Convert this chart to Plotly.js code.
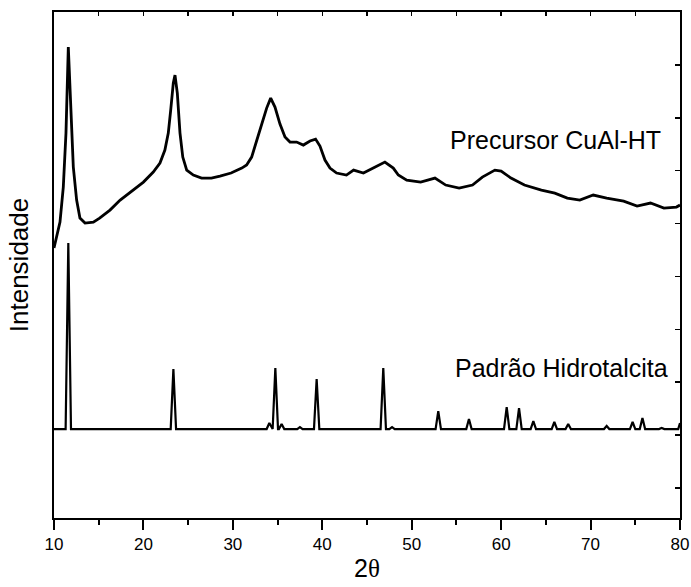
<!DOCTYPE html>
<html>
<head>
<meta charset="utf-8">
<script src="https://cdn.plot.ly/plotly-3.0.1.min.js"></script>
<style>html,body{margin:0;padding:0;background:#fff;}#chart{width:691px;height:587px;}</style>
</head>
<body>
<div id="chart"></div>
<script>
// Precursor CuAl-HT (2θ, intensity a.u.)
const precursorX = [10.0, 10.37, 10.67, 11.04, 11.34, 11.6, 11.87, 12.16, 12.53, 12.9, 13.47, 14.4, 15.1, 16.26, 17.4, 18.87, 20.0, 21.1, 21.85, 22.4, 22.78, 23.05, 23.34, 23.53, 23.79, 24.09, 24.4, 24.84, 25.58, 26.5, 27.6, 28.56, 29.8, 31.0, 31.54, 32.1, 32.67, 33.22, 33.78, 34.23, 34.71, 35.27, 35.83, 36.39, 37.13, 37.88, 38.63, 39.25, 39.74, 40.3, 40.86, 41.6, 42.7, 43.5, 44.6, 45.7, 47.0, 47.94, 48.5, 49.44, 51.0, 52.6, 53.8, 55.3, 56.8, 57.9, 59.3, 60.0, 61.1, 62.6, 64.5, 66.0, 67.4, 68.8, 70.3, 71.8, 73.7, 75.2, 76.7, 78.2, 79.6, 80.0];
const precursorY = [4.537, 4.783, 5.028, 5.690, 6.711, 8.337, 7.335, 6.068, 5.444, 5.104, 5.009, 5.028, 5.104, 5.255, 5.444, 5.633, 5.784, 5.974, 6.144, 6.389, 6.711, 7.146, 7.656, 7.807, 7.467, 6.711, 6.257, 6.011, 5.917, 5.860, 5.860, 5.898, 5.955, 6.049, 6.106, 6.257, 6.578, 6.862, 7.183, 7.372, 7.202, 6.881, 6.635, 6.541, 6.541, 6.484, 6.560, 6.597, 6.465, 6.200, 6.049, 5.955, 5.917, 6.011, 5.955, 6.049, 6.163, 6.049, 5.917, 5.822, 5.784, 5.860, 5.728, 5.671, 5.728, 5.879, 6.011, 5.992, 5.860, 5.728, 5.633, 5.576, 5.482, 5.444, 5.539, 5.482, 5.425, 5.331, 5.388, 5.293, 5.312, 5.350];

// Padrão Hidrotalcita: reflections (2θ) and peak tops, common baseline
const standardPeakPos = [11.6, 23.35, 34.08, 34.75, 35.45, 37.5, 39.37, 46.82, 47.8, 52.97, 56.4, 60.62, 62.0, 63.6, 65.95, 67.5, 71.8, 74.7, 75.8, 77.95];
const standardPeakTop = [4.631, 2.249, 1.229, 2.268, 1.210, 1.153, 2.060, 2.268, 1.153, 1.455, 1.304, 1.531, 1.512, 1.266, 1.248, 1.210, 1.172, 1.248, 1.323, 1.134];
const standardBaseline = 1.115;
const standardEdgeX = [10, 80];
const standardEdgeY = [1.115, 1.229];

const labels = ["Precursor CuAl-HT", "Padrão Hidrotalcita"];
const xTitle = "2<span style=\"font-family:'Liberation Serif','Times New Roman',serif\">θ</span>";
const yTitle = "Intensidade";

// build stick-pattern line from peak table
const hw = 0.3;
const sx = [standardEdgeX[0]], sy = [standardEdgeY[0]];
standardPeakPos.forEach((p, i) => {
  sx.push(p - hw, p, p + hw);
  sy.push(standardBaseline, standardPeakTop[i], standardBaseline);
});
sx.push(standardEdgeX[1] - 0.2, standardEdgeX[1]);
sy.push(standardBaseline, standardEdgeY[1]);

const font = "Arial, 'Liberation Sans', sans-serif";
const yr = [-0.567, 9.0];

const traces = [
  {x: precursorX, y: precursorY, type: 'scatter', mode: 'lines', line: {color: '#000', width: 2.8}, hoverinfo: 'skip', showlegend: false},
  {x: sx, y: sy, type: 'scatter', mode: 'lines', line: {color: '#000', width: 2.2}, hoverinfo: 'skip', showlegend: false},
  {x: [], y: [], xaxis: 'x2', yaxis: 'y2', type: 'scatter', mode: 'lines', showlegend: false, hoverinfo: 'skip'}
];

const layout = {
  width: 691, height: 587,
  margin: {l: 54, r: 11, t: 12, b: 69},
  paper_bgcolor: '#fff', plot_bgcolor: '#fff',
  font: {family: font, color: '#000'},
  showlegend: false,
  xaxis: {
    range: [10, 80], tick0: 10, dtick: 10, ticks: 'outside', ticklen: 10, tickwidth: 2, tickcolor: '#000',
    showline: true, linewidth: 2, linecolor: '#000', mirror: true, showgrid: false, zeroline: false,
    tickfont: {size: 17, family: font},
    minor: {dtick: 5, tick0: 10, ticks: 'outside', ticklen: 5, tickwidth: 2, tickcolor: '#000', showgrid: false},
    title: {text: xTitle, font: {size: 25, family: font}, standoff: 6}
  },
  xaxis2: {
    overlaying: 'x', side: 'top', anchor: 'y', range: [10, 80], tick0: 10, dtick: 5,
    ticks: 'inside', ticklen: 4, tickwidth: 1.5, tickcolor: '#000', showticklabels: false,
    showline: false, showgrid: false, zeroline: false
  },
  yaxis: {
    range: yr, showticklabels: false, ticks: '', showline: true, linewidth: 2, linecolor: '#000',
    mirror: true, showgrid: false, zeroline: false,
    title: {text: yTitle, font: {size: 26, family: font}, standoff: 16}
  },
  yaxis2: {
    overlaying: 'y', side: 'right', anchor: 'x', range: yr, tick0: 0, dtick: 1,
    ticks: 'inside', ticklen: 5, tickwidth: 1.5, tickcolor: '#000', showticklabels: false,
    showline: false, showgrid: false, zeroline: false
  },
  annotations: [
    {x: 78.1, y: 6.578, xref: 'x', yref: 'y', text: labels[0], showarrow: false, xanchor: 'right', yanchor: 'middle', font: {size: 25, family: font}},
    {x: 78.88, y: 2.268, xref: 'x', yref: 'y', text: labels[1], showarrow: false, xanchor: 'right', yanchor: 'middle', font: {size: 25, family: font}}
  ]
};

Plotly.newPlot('chart', traces, layout, {staticPlot: true, displayModeBar: false});
</script>
</body>
</html>
